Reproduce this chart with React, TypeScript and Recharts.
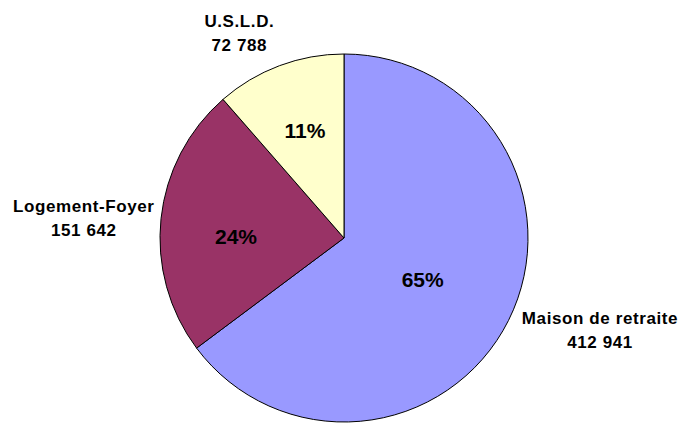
import React from "react";
import { PieChart, Pie, Cell } from "recharts";

const categories = ["Maison de retraite", "Logement-Foyer", "U.S.L.D."];
const values = [412941, 151642, 72788];
const colors = ["#9999FF", "#993366", "#FFFFCC"];

const data = categories.map((name, i) => ({ name, value: values[i] }));

const RAD = Math.PI / 180;
const fmt = (v: number) => String(v).replace(/\B(?=(\d{3})+(?!\d))/g, " ");

// per-slice label placement tweaks (outer label: extra radius, angle shift; inner: radius, angle shift)
const outerExtra = [88, 77, 46];
const outerShift = [6.85, 1.6, 6.5];
const innerRadius = [89, 108, 114];
const innerShift = [-1.3, 5.3, -0.5];

const renderLabel = (props: any) => {
  const { cx, cy, midAngle, outerRadius, index, percent, payload } = props;
  const name = payload?.name ?? categories[index];
  const value = payload?.value ?? values[index];
  const a1 = (midAngle + outerShift[index]) * RAD;
  const r1 = outerRadius + outerExtra[index];
  const ox = cx + r1 * Math.cos(a1);
  const oy = cy - r1 * Math.sin(a1);
  const a2 = (midAngle + innerShift[index]) * RAD;
  const r2 = innerRadius[index];
  const ix = cx + r2 * Math.cos(a2);
  const iy = cy - r2 * Math.sin(a2);
  const font = "'Liberation Sans', Arial, sans-serif";
  return (
    <g>
      <text
        x={ox}
        y={oy - 6}
        textAnchor="middle"
        fontFamily={font}
        fontWeight="bold"
        fontSize={17}
        letterSpacing={0.6}
        fill="#000"
      >
        {name}
      </text>
      <text
        x={ox}
        y={oy + 18}
        textAnchor="middle"
        fontFamily={font}
        fontWeight="bold"
        fontSize={17}
        letterSpacing={0.6}
        fill="#000"
      >
        {fmt(value)}
      </text>
      <text
        x={ix}
        y={iy + 7.5}
        textAnchor="middle"
        fontFamily={font}
        fontWeight="bold"
        fontSize={21}
        fill="#000"
      >
        {Math.round(percent * 100) + "%"}
      </text>
    </g>
  );
};

export default function App() {
  return (
    <div style={{ position: "absolute", left: 0, top: 0, width: 683, height: 423, background: "#fff" }}>
      <PieChart width={683} height={423} margin={{ top: 0, right: 0, bottom: 0, left: 0 }}>
        <Pie
          data={data}
          dataKey="value"
          nameKey="name"
          cx={344}
          cy={238}
          outerRadius={184}
          startAngle={90}
          endAngle={-270}
          stroke="#000"
          strokeWidth={1}
          label={renderLabel}
          labelLine={false}
          isAnimationActive={false}
        >
          {data.map((d, i) => (
            <Cell key={d.name} fill={colors[i]} />
          ))}
        </Pie>
      </PieChart>
    </div>
  );
}
